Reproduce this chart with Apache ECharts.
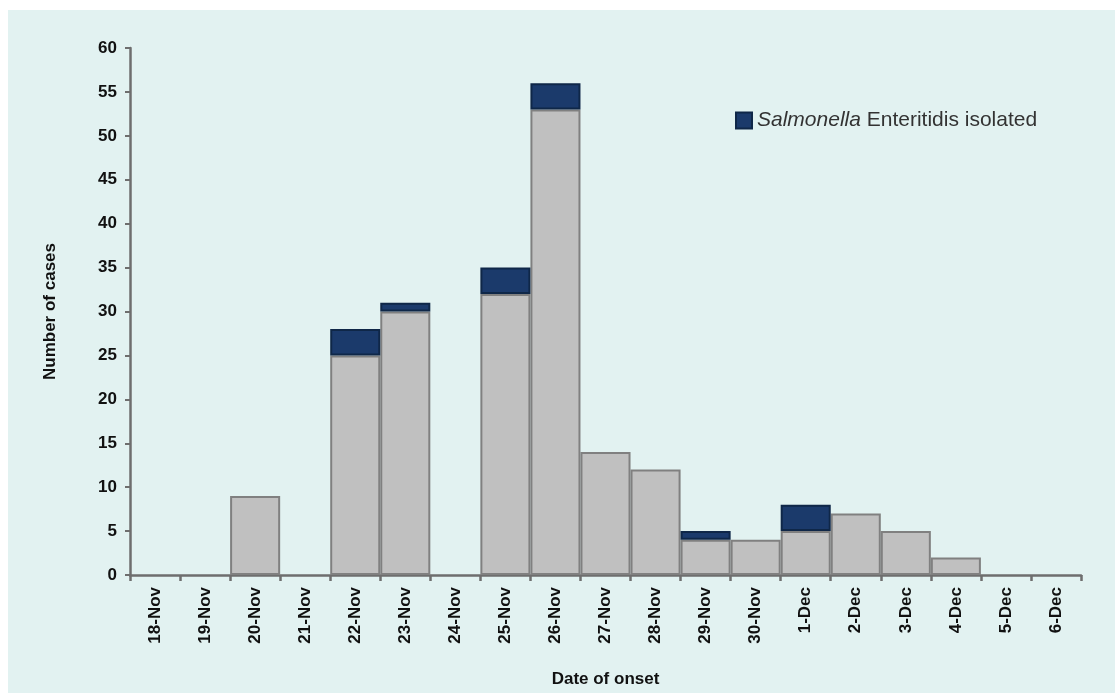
<!DOCTYPE html>
<html>
<head>
<meta charset="utf-8">
<script src="https://cdn.jsdelivr.net/npm/echarts@6/dist/echarts.min.js"></script>
<style>
  html, body { margin: 0; padding: 0; background: #ffffff; }
  #panel { position: absolute; left: 8px; top: 10px; width: 1107px; height: 683px; background: #e2f2f1; }
  #chart { position: absolute; left: 0; top: 0; width: 1115px; height: 693px; }
</style>
</head>
<body>
<div id="panel"></div>
<div id="chart"></div>
<script>
const days = ["18-Nov", "19-Nov", "20-Nov", "21-Nov", "22-Nov", "23-Nov", "24-Nov", "25-Nov",
  "26-Nov", "27-Nov", "28-Nov", "29-Nov", "30-Nov", "1-Dec", "2-Dec", "3-Dec", "4-Dec", "5-Dec", "6-Dec"];
// cases without an isolate (grey) and with Salmonella Enteritidis isolated (navy)
const otherCases = [0, 0, 9, 0, 25, 30, 0, 32, 53, 14, 12, 4, 4, 5, 7, 5, 2, 0, 0];
const isolated = [0, 0, 0, 0, 3, 1, 0, 3, 3, 0, 0, 1, 0, 3, 0, 0, 0, 0, 0];

const chart = echarts.init(document.getElementById("chart"));

// zero-height bars would leave a stray border line, so drop them
const noZero = arr => arr.map(v => (v === 0 ? null : v));

const font = "Arial, 'Liberation Sans', sans-serif";
const axisGrey = "#6e6e6e";

chart.setOption({
  animation: false,
  grid: { left: 130, right: 34, top: 48, bottom: 114 },
  legend: {
    data: ["isolated"],
    left: 730,
    top: 105,
    icon: "rect",
    itemWidth: 16,
    itemHeight: 16,
    formatter: () => "{i|Salmonella} Enteritidis isolated",
    textStyle: {
      fontFamily: font,
      fontSize: 21,
      color: "#333333",
      rich: {
        i: { fontFamily: font, fontSize: 21, fontStyle: "italic", color: "#333333" }
      }
    }
  },
  xAxis: {
    type: "category",
    data: days,
    name: "Date of onset",
    nameLocation: "middle",
    nameGap: 96,
    nameTextStyle: { fontFamily: font, fontSize: 17, fontWeight: "bold", color: "#111" },
    axisLine: { lineStyle: { color: axisGrey, width: 2.5 } },
    axisTick: { show: true, length: 6, lineStyle: { color: axisGrey, width: 2.5 } },
    axisLabel: { rotate: 90, interval: 0, margin: 12, fontFamily: font, fontSize: 17, fontWeight: "bold", color: "#111" }
  },
  yAxis: {
    type: "value",
    min: 0,
    max: 60,
    interval: 5,
    name: "Number of cases",
    nameLocation: "middle",
    nameGap: 71,
    nameTextStyle: { fontFamily: font, fontSize: 17, fontWeight: "bold", color: "#111" },
    axisLine: { show: true, lineStyle: { color: axisGrey, width: 2.5 } },
    axisTick: { show: true, length: 5, lineStyle: { color: axisGrey, width: 2 } },
    splitLine: { show: false },
    axisLabel: { margin: 13, fontFamily: font, fontSize: 17, fontWeight: "bold", color: "#111" }
  },
  series: [
    {
      name: "other",
      type: "bar",
      stack: "cases",
      barCategoryGap: "0%",
      data: noZero(otherCases),
      itemStyle: { color: "#c0c0c0", borderColor: "#808080", borderWidth: 2 }
    },
    {
      name: "isolated",
      type: "bar",
      stack: "cases",
      barCategoryGap: "0%",
      data: noZero(isolated),
      itemStyle: { color: "#1b3a6b", borderColor: "#0f2748", borderWidth: 2 }
    }
  ]
});

window.addEventListener("resize", function () {
  chart.resize();
});
</script>
</body>
</html>
